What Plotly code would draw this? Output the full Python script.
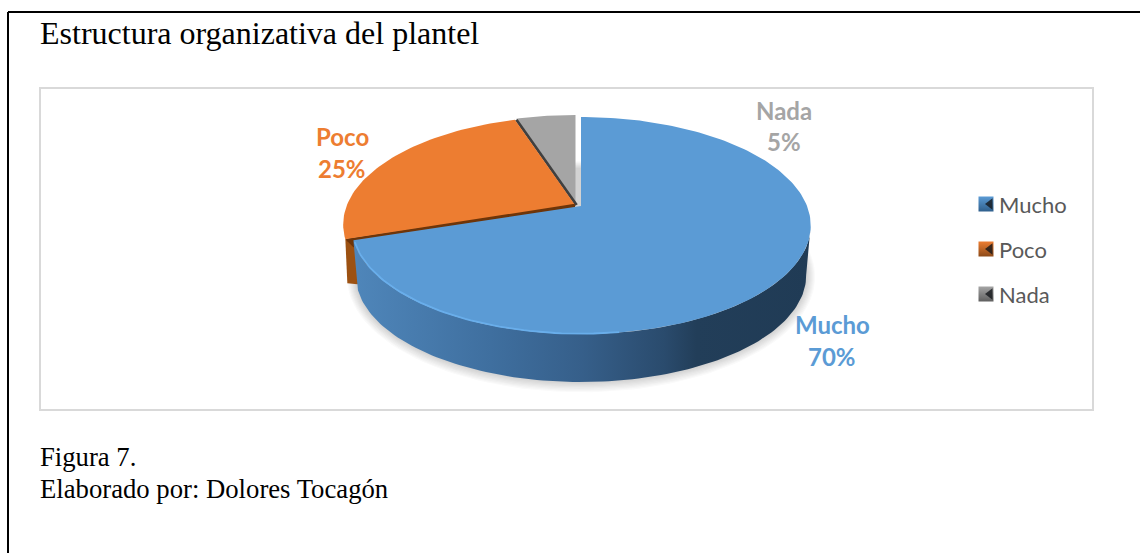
import numpy as np
import plotly.graph_objects as go

# Data
categories = ["Mucho", "Poco", "Nada"]
shares = [70, 25, 5]
colors = ["#5b9bd5", "#ed7d31", "#a5a5a5"]
title = "Estructura organizativa del plantel"
notes = ["Figura 7.", "Elaborado por: Dolores Tocagón"]

# Pie projection (perspective disc) - geometry only
PERSP, A, B = 0.18, 226.0, 105.0
centers = {"Mucho": (581.0, 206.0), "Poco": (575.0, 205.0), "Nada": (575.5, 204.0)}
widen = {"Mucho": 1.0, "Poco": 1.009, "Nada": 0.991}
DEPTH, RIM = 49.0, 0.98


def project(theta_deg, c, a=A, b=B, scale=1.0, dy=0.0):
    t = np.radians(np.asarray(theta_deg, dtype=float))
    u, v = np.sin(t), np.cos(t)
    w = 1 + PERSP * v
    return c[0] + scale * a * u / w, c[1] + dy - scale * b * v / w


edges = np.concatenate([[0], np.cumsum(shares)]) * 360.0 / sum(shares)
spans = {n: (edges[i], edges[i + 1]) for i, n in enumerate(categories)}

fig = go.Figure()


def poly(x, y, color, name="", **kw):
    fig.add_trace(go.Scatter(x=x, y=y, mode="lines", fill="toself", fillcolor=color,
                             line=dict(width=0, color=color), hoverinfo="skip",
                             showlegend=False, name=name, **kw))


# soft shadow under the pie
full = np.linspace(0, 360, 181)
c0 = centers["Mucho"]
for e in range(1, 10):
    sx, sy = project(full, c0, a=A + e, b=B + e, scale=RIM, dy=DEPTH + 1)
    poly(sx, sy, "rgba(60,60,60,0.022)")

# Poco's side wall
c1 = centers["Poco"]
s1, e1 = spans["Poco"]
lx, ly = project([s1], c1, a=A * widen["Poco"])
poly([c1[0], lx[0], lx[0] + 2, lx[0] + 12, c1[0]],
     [c1[1], ly[0], ly[0] + 44, ly[0] + 45, c1[1] + 6], "#9c5112")
poly([c1[0], lx[0], lx[0] + 8, c1[0]], [c1[1], ly[0], ly[0] + 8, c1[1] + 3], "#6e3509")

# Nada
s2, e2 = spans["Nada"]
c2 = centers["Nada"]
th = np.linspace(s2, e2, 20)
x, y = project(th, c2, a=A * widen["Nada"])
poly(np.r_[c2[0], x, c2[0]], np.r_[c2[1], y, c2[1]], colors[2], name="Nada")

# dark edge between Nada and Poco
ex, ey = project([e1], c1, a=A * widen["Poco"])
fig.add_trace(go.Scatter(x=[c1[0] + 1.5, ex[0] + 1.5], y=[c1[1], ey[0]], mode="lines",
                         line=dict(color="#404040", width=3), hoverinfo="skip", showlegend=False))

# Poco top
th = np.linspace(s1, e1, 60)
x, y = project(th, c1, a=A * widen["Poco"])
poly(np.r_[c1[0], x, c1[0]], np.r_[c1[1], y, c1[1]], colors[1], name="Poco")
fig.add_trace(go.Scatter(x=[c1[0], lx[0] + 2], y=[c1[1], ly[0] + 1], mode="lines",
                         line=dict(color="#6e3509", width=2.5), hoverinfo="skip", showlegend=False))

# Mucho side wall with gradient
s0, e0 = spans["Mucho"]
th = np.linspace(100, e0, 120)
tx, ty = project(th, c0)
bx, by = project(th, c0, scale=RIM, dy=DEPTH + 1.5)
fig.add_trace(go.Scatter(
    x=np.r_[tx, bx[::-1]], y=np.r_[ty, by[::-1]], mode="lines", fill="toself",
    line=dict(width=0), hoverinfo="skip", showlegend=False,
    fillgradient=dict(type="horizontal", colorscale=[
        [0, "#4f86ba"], [0.3, "#3f6f9f"], [0.5, "#365f8a"], [0.68, "#2a4b6d"],
        [0.75, "#223e59"], [1, "#203b55"]])))

# Mucho top
th = np.linspace(s0, e0, 200)
x, y = project(th, c0)
poly(np.r_[c0[0], x, c0[0]], np.r_[c0[1], y, c0[1]], colors[0], name="Mucho")

# light rim on the front-left of Mucho
th = np.linspace(172, e0 - 1, 60)
x, y = project(th, c0, scale=0.997)
fig.add_trace(go.Scatter(x=x, y=y, mode="lines", line=dict(color="#69aeeb", width=1.8),
                         hoverinfo="skip", showlegend=False))

# Data labels
label_name_pos = {"Mucho": (832, 324), "Poco": (342, 136), "Nada": (784, 110)}
label_pct_pos = {"Mucho": (832, 356), "Poco": (342, 168), "Nada": (784, 141)}
annos = []
for n, v, col in zip(categories, shares, colors):
    for txt, p in ((n, label_name_pos[n]), (f"{v}%", label_pct_pos[n])):
        annos.append(dict(x=p[0], y=p[1], text=f"<b>{txt}</b>", showarrow=False, xref="x", yref="y",
                          font=dict(family="Lato", size=24, color=col)))

# Legend drawn with markers + text
legend_y = [204, 249, 294]
dark = ["#2f5f8c", "#8c4a18", "#5f5f5f"]
for n, col, d, ly_ in zip(categories, colors, dark, legend_y):
    fig.add_trace(go.Scatter(
        x=[986], y=[ly_], mode="markers", name=n,
        marker=dict(symbol="square", size=15, color=col, gradient=dict(type="vertical", color=d)),
        hoverinfo="skip", showlegend=False))
    fig.add_trace(go.Scatter(
        x=[990], y=[ly_], mode="markers",
        marker=dict(symbol="triangle-left", size=10, color="rgba(20,22,26,0.8)"),
        hoverinfo="skip", showlegend=False))
    annos.append(dict(x=997, y=ly_, text=n, showarrow=False, xanchor="left", xref="x", yref="y",
                      font=dict(family="Lato", size=22, color="#595959")))

# Caption text
for txt, yy in zip(notes, [457, 489]):
    annos.append(dict(x=38, y=yy, text=txt, showarrow=False, xanchor="left", xref="x", yref="y",
                      font=dict(family="Liberation Serif", size=26.7, color="#000000")))

shapes = [
    dict(type="rect", x0=40, x1=1093, y0=88, y1=410, line=dict(color="#d9d9d9", width=2), layer="below"),
    dict(type="line", x0=8, x1=8, y0=12, y1=553, line=dict(color="#000000", width=2)),
    dict(type="line", x0=8, x1=1140, y0=12, y1=12, line=dict(color="#000000", width=2)),
]

fig.update_layout(
    width=1140, height=553, margin=dict(l=0, r=0, t=0, b=0),
    paper_bgcolor="#ffffff", plot_bgcolor="#ffffff", showlegend=False,
    title=dict(text=title, x=40 / 1140, xanchor="left", y=1 - 33 / 553, yanchor="middle",
               font=dict(family="Liberation Serif", size=32, color="#000000")),
    xaxis=dict(range=[0, 1140], visible=False, fixedrange=True),
    yaxis=dict(range=[553, 0], visible=False, fixedrange=True),
    annotations=annos, shapes=shapes,
)

fig.write_html("out.html", config=dict(displayModeBar=False),
               post_script="document.body.style.margin='0';document.body.style.overflow='hidden';")
